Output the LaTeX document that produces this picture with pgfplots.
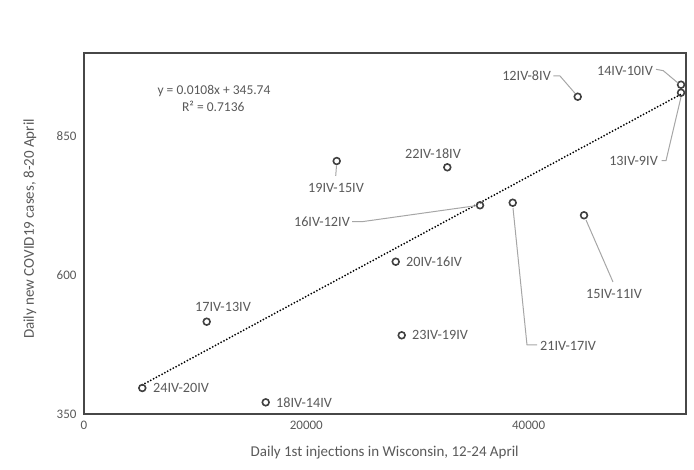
\documentclass[border=0pt]{standalone}
\usepackage{pgfplots}
\pgfplotsset{compat=1.18}
\usepackage{fontspec}
\setmainfont{Carlito}
\definecolor{txt}{HTML}{595959}
\definecolor{lead}{HTML}{A6A6A6}
\definecolor{mk}{HTML}{404040}
\begin{document}
\begin{tikzpicture}[x=1pt,y=1pt]
\useasboundingbox (0,0) rectangle (694,470);
\begin{axis}[at={(84pt,56pt)}, anchor=south west, scale only axis,
  width=602pt, height=361pt,
  xmin=0, xmax=54160, ymin=350, ymax=1000,
  xtick={0,20000,40000}, ytick={350,600,850},
  major tick length=0pt,
  axis line style={black!72, line width=2.5pt},
  ticklabel style={font=\fontsize{13}{15}\selectfont, text=txt},
  yticklabel style={xshift=-4pt},
  xticklabel style={yshift=-4pt},
  /pgf/number format/assume math mode=true,
  /pgf/number format/1000 sep={},
  scaled x ticks=false, clip=false]
\addplot[black, line width=2pt, line cap=round, dash pattern=on 0pt off 3.2pt] coordinates {(5245,402.4) (53712,925.8)};
\addplot[only marks, mark=o, mark size=3.4pt, mark options={draw=mk, fill=white, line width=1.6pt}] coordinates {
(5245,396.8) (16348,371) (11039,516.2) (28583,491.7) (28044,624.2) (35628,725.8) (38570,730.4) (44985,707.8) (32686,794.2) (22735,805.5) (44418,921.3) (53712,942.9) (53712,928.5)};
\end{axis}
\begin{scope}[every node/.style={inner sep=0pt, text=txt, font=\fontsize{14.2}{16}\selectfont}]
\draw[lead, line width=1pt] (586,250) -- (613,188);
\draw[lead, line width=1pt] (513,262) -- (527,125) -- (537,125);
\draw[lead, line width=1pt] (352,248.3) -- (362,248.3) -- (476,264.3);
\draw[lead, line width=1pt] (336.5,304.5) -- (335.7,294);
\draw[lead, line width=1pt] (553.3,394) -- (560,394) -- (575,376.7);
\draw[lead, line width=1pt] (656,400.7) -- (663.3,399.3) -- (678.3,386.7);
\draw[lead, line width=1pt] (661.7,309.3) -- (666,309.3) -- (681,373);
\node[anchor=west] at (153,82) {24IV-20IV};
\node[anchor=west] at (276,67) {18IV-14IV};
\node at (223,162.7) {17IV-13IV};
\node[anchor=west] at (412,134.7) {23IV-19IV};
\node[anchor=west] at (406,208) {20IV-16IV};
\node at (614,176) {15IV-11IV};
\node[anchor=west] at (540,124.3) {21IV-17IV};
\node[anchor=east] at (350,248.3) {16IV-12IV};
\node at (433,316.7) {22IV-18IV};
\node at (336,282) {19IV-15IV};
\node[anchor=east] at (551,394) {12IV-8IV};
\node[anchor=east] at (653,399.3) {14IV-10IV};
\node[anchor=east] at (658,309.3) {13IV-9IV};
\node[font=\fontsize{13.5}{15}\selectfont] at (214,379.3) {y = 0.0108x + 345.74};
\node[font=\fontsize{13.5}{15}\selectfont] at (213.3,363.3) {R² = 0.7136};
\node[font=\fontsize{15}{17}\selectfont] at (384.7,17.3) {Daily 1st injections in Wisconsin, 12-24 April};
\node[rotate=90, font=\fontsize{15}{17}\selectfont] at (30,241) {Daily new COVID19 cases, 8-20 April};
\end{scope}
\end{tikzpicture}
\end{document}
